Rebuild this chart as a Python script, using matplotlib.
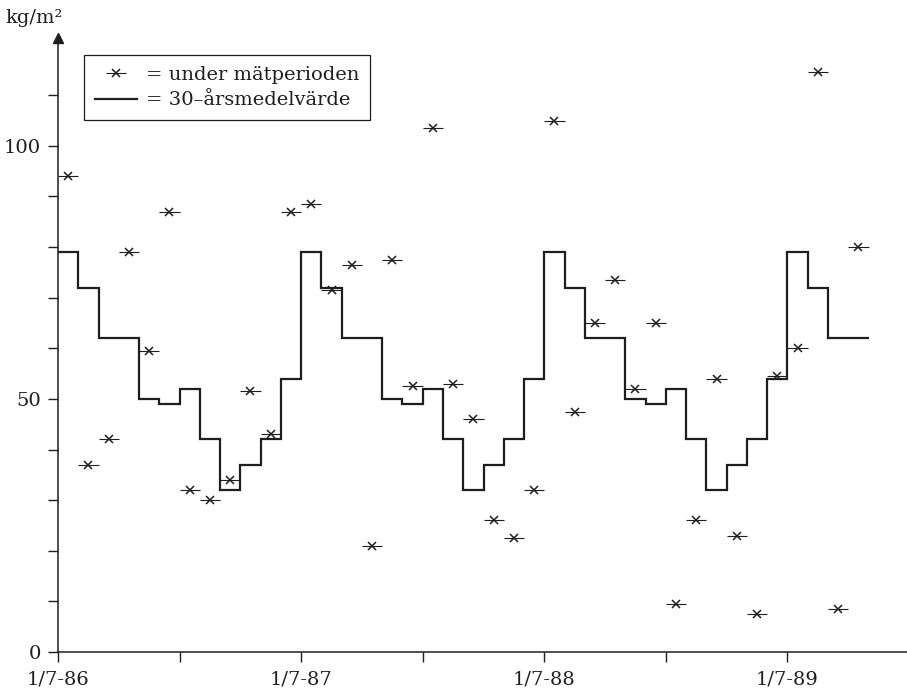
import numpy as np
import matplotlib.pyplot as plt

# months counted from 1/7-86 (month 0 = July 1986)
normals_jul_to_jun = [79, 72, 62, 62, 50, 49, 52, 42, 32, 37, 42, 54]   # 30-year mean, kg/m2
n_months = 40   # Jul 86 .. Oct 89

measured = [94, 37, 42, 79, 59.5, 87, 32, 30, 34, 51.5, 43, 87,
            88.5, 71.5, 76.5, 21, 77.5, 52.5, 103.5, 53, 46, 26, 22.5, 32,
            105, 47.5, 65, 73.5, 52, 65, 9.5, 26, 54, 23, 7.5, 54.5,
            60, 114.5, 8.5, 80]

xtick_pos = [0, 6, 12, 18, 24, 30, 36]
xtick_labels = ['1/7-86', '', '1/7-87', '', '1/7-88', '', '1/7-89']
ytick_pos = list(range(0, 111, 10))
ytick_labels = [str(v) if v % 50 == 0 else '' for v in ytick_pos]

plt.rcParams['font.family'] = ['DejaVu Serif']
ink = '#1e1e1e'

fig = plt.figure(figsize=(9.07, 6.92), dpi=100)
ax = fig.add_axes([58 / 907, 40 / 692, 1 - 58 / 907, 614 / 692])

months = np.arange(n_months)
mean_vals = [normals_jul_to_jun[m % 12] for m in months]
edges = np.arange(n_months + 1)
ax.stairs(mean_vals, edges, color=ink, linewidth=1.6, baseline=None,
          label='= 30\u2013\u00e5rsmedelv\u00e4rde')

eb = ax.errorbar(months + 0.5, measured, xerr=0.5, fmt='x', color=ink,
                 markersize=5.5, markeredgewidth=1.1, elinewidth=0.8, capsize=0,
                 label='= under m\u00e4tperioden')

ax.set_xlim(0, 41.9)
ax.set_ylim(0, 121.3)

for side in ['top', 'right']:
    ax.spines[side].set_visible(False)
for side in ['left', 'bottom']:
    ax.spines[side].set_linewidth(1.1)
    ax.spines[side].set_color(ink)

ax.set_xticks(xtick_pos)
ax.set_xticklabels(xtick_labels)
ax.set_yticks(ytick_pos)
ax.set_yticklabels(ytick_labels)
ax.tick_params(axis='both', direction='out', length=7.5, width=1.0,
               colors=ink, labelsize=14)
ax.tick_params(axis='x', pad=6)
ax.tick_params(axis='y', pad=5)

# arrow head on top of the y axis
ax.plot([0], [1], marker='^', color=ink, markersize=7, transform=ax.transAxes,
        clip_on=False)

fig.text(5 / 907, 1 - 18 / 692, 'kg/m\u00b2', fontsize=14, va='center',
         ha='left', color=ink)

handles, labels = ax.get_legend_handles_labels()
order = [labels.index('= under m\u00e4tperioden'),
         labels.index('= 30\u2013\u00e5rsmedelv\u00e4rde')]
leg = ax.legend([handles[i] for i in order], [labels[i] for i in order],
                loc='upper left', bbox_to_anchor=(26 / 849, (652 - 55) / 614),
                borderaxespad=0, fancybox=False, edgecolor=ink, framealpha=1,
                fontsize=14, handlelength=2.2, labelspacing=0.4,
                borderpad=0.55, handletextpad=0.45)
leg.get_frame().set_linewidth(0.9)
for t in leg.get_texts():
    t.set_color(ink)

fig.savefig('out.png', dpi=100, facecolor='white')
